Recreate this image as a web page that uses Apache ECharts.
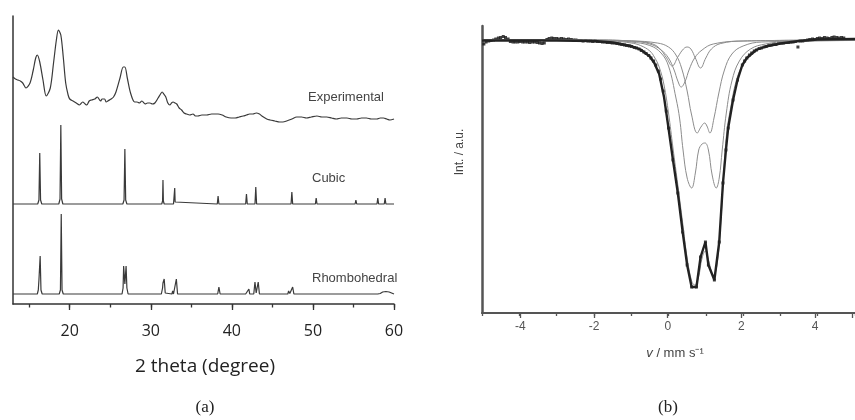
<!DOCTYPE html>
<html>
<head>
<meta charset="utf-8">
<script src="https://cdn.jsdelivr.net/npm/echarts@6/dist/echarts.min.js"></script>
<style>
  html, body { margin: 0; padding: 0; background: #fff; }
  #chart { width: 855px; height: 420px; }
</style>
</head>
<body>
<div id="chart"></div>
<script>
// (a) XRD patterns: [2 theta, intensity a.u.], traces stacked with offsets
const experimental = [
  [13.0, 227], [13.3, 225], [13.6, 224], [13.9, 223], [14.2, 221], [14.6, 216], [15.1, 221], [15.5, 234],
  [15.8, 246], [16.0, 249], [16.3, 242], [16.7, 224], [17.1, 208], [17.6, 216], [18.0, 241], [18.35, 264],
  [18.6, 274], [18.9, 269], [19.2, 247], [19.5, 221], [19.8, 209], [20.0, 205], [20.4, 203], [20.8, 201],
  [21.2, 199], [21.6, 202], [21.9, 200], [22.1, 199], [22.4, 203], [22.7, 204], [23.1, 205], [23.4, 207],
  [23.8, 203], [24.0, 205], [24.3, 205], [24.5, 202], [24.7, 203], [25.1, 205], [25.4, 207], [25.7, 212],
  [26.2, 226], [26.6, 237], [26.8, 237], [27.1, 226], [27.5, 211], [28.0, 202], [28.3, 202], [28.6, 201],
  [28.9, 203], [29.3, 200], [29.6, 201], [29.9, 201], [30.2, 200], [30.5, 201], [30.9, 206], [31.2, 210],
  [31.4, 212], [31.6, 210], [31.85, 207], [32.1, 201], [32.35, 199], [32.55, 201], [32.75, 202], [33.0, 201],
  [33.2, 200], [33.5, 196], [33.8, 194], [34.1, 191], [34.4, 190], [34.8, 189], [35.2, 190], [35.5, 188],
  [35.8, 188], [36.3, 189], [36.9, 189], [37.5, 190], [38.3, 190], [38.8, 189], [39.3, 187], [39.9, 186],
  [40.4, 186], [40.9, 187], [41.4, 188], [41.8, 189], [42.2, 190], [42.6, 190], [43.0, 191], [43.4, 190],
  [43.7, 188], [44.3, 185], [44.7, 184], [45.3, 183], [45.9, 182], [46.3, 182], [46.75, 183], [47.4, 185],
  [48.0, 187], [48.6, 187], [49.2, 186], [49.8, 187], [50.5, 188], [51.1, 187], [51.7, 187], [52.3, 186],
  [52.9, 185], [53.5, 186], [54.2, 186], [54.8, 185], [55.4, 185], [56.0, 186], [56.6, 186], [57.2, 185],
  [57.9, 185], [58.3, 186], [58.7, 186], [59.1, 185], [59.5, 184], [60.0, 185]
];
const cubic = [
  [13, 100], [16.05, 100], [16.2, 104], [16.3, 151], [16.4, 104], [16.55, 100],
  [18.65, 100], [18.8, 105], [18.9, 179], [19.0, 105], [19.15, 100],
  [26.55, 100], [26.7, 104], [26.8, 155], [26.9, 104], [27.05, 100],
  [31.35, 100], [31.45, 103], [31.5, 124], [31.55, 103], [31.65, 100],
  [32.8, 100], [32.9, 102], [32.95, 116], [33.0, 102], [33.1, 100],
  [38.2, 100], [38.3, 108], [38.4, 100],
  [41.7, 100], [41.8, 110], [41.9, 100],
  [42.85, 100], [42.95, 117], [43.05, 100],
  [47.3, 100], [47.4, 112], [47.5, 100],
  [50.3, 100], [50.4, 106], [50.5, 100],
  [55.2, 100], [55.3, 104], [55.4, 100],
  [57.9, 100], [58.0, 106], [58.1, 100],
  [58.8, 100], [58.9, 106], [59.0, 100], [60, 100]
];
const rhombohedral = [
  [13, 10], [16.0, 10], [16.12, 14], [16.2, 24], [16.27, 22], [16.35, 48], [16.45, 14], [16.6, 10],
  [18.7, 10], [18.85, 14], [18.95, 90], [19.05, 14], [19.2, 10],
  [26.45, 10], [26.58, 16], [26.65, 38], [26.8, 20], [26.95, 38], [27.05, 16], [27.2, 10],
  [31.3, 10], [31.45, 16], [31.5, 21], [31.58, 19], [31.65, 25], [31.78, 11], [31.9, 10],
  [32.6, 10], [32.7, 13], [32.8, 10],
  [33.0, 10], [33.15, 25], [33.3, 10],
  [38.25, 10], [38.4, 17], [38.55, 10],
  [41.7, 10], [41.8, 12], [41.9, 10.5], [42.1, 15], [42.2, 10],
  [42.7, 10], [42.85, 22], [43.0, 11], [43.25, 22], [43.4, 10],
  [46.9, 10], [47.0, 13], [47.15, 10.5], [47.5, 17], [47.65, 10],
  [50.45, 10], [50.6, 12], [50.75, 10],
  [55.1, 10], [55.2, 11], [55.4, 10], [55.6, 11], [55.7, 10],
  [58.0, 10], [58.1, 12], [58.3, 10.5], [58.6, 12], [58.8, 11], [59.0, 12.5], [59.2, 11], [59.4, 12], [59.55, 10], [60, 10]
];
const xrdLabels = ['Experimental', 'Cubic', 'Rhombohedral'];

// (b) Moessbauer spectrum: [v in mm/s, intensity a.u.]
const mossData = [
  [-4.95, 269], [-4.89, 271], [-4.82, 272], [-4.76, 272.5], [-4.69, 273], [-4.63, 274], [-4.56, 275], [-4.5, 275.5],
  [-4.43, 276.5], [-4.37, 275.5], [-4.3, 274], [-4.24, 271.5], [-4.17, 271], [-4.11, 271], [-4.04, 271], [-3.98, 271.5],
  [-3.91, 271], [-3.85, 271], [-3.78, 271], [-3.72, 270.5], [-3.65, 271], [-3.59, 271], [-3.52, 270.5], [-3.46, 270],
  [-3.39, 269.5], [-3.33, 270], [-3.26, 273.5], [-3.2, 274.5], [-3.13, 275], [-3.07, 274.5], [-3.0, 274.5], [-2.94, 274],
  [-2.87, 274.5], [-2.81, 274], [-2.74, 273.5], [-2.68, 274], [-2.61, 273.5], [-2.55, 273], [-2.48, 273], [-2.42, 272.5],
  [-2.35, 272.5], [-2.29, 272], [-2.22, 272.5], [-2.16, 272], [-2.09, 272], [-2.03, 271.5], [-1.96, 272], [-1.9, 271.5],
  [-1.83, 271.5], [-1.77, 271], [-1.7, 271], [-1.64, 270.5], [-1.57, 270.5], [-1.51, 270], [-1.44, 270], [-1.38, 269.5],
  [-1.31, 269], [-1.25, 268.5], [-1.18, 268], [-1.12, 267.5], [-1.05, 267], [-0.99, 266.5], [-0.92, 265.5], [-0.86, 265],
  [-0.79, 264], [-0.73, 262.5], [-0.66, 261], [-0.6, 259.5], [-0.53, 257.5], [-0.47, 255], [-0.4, 252], [-0.34, 248],
  [-0.27, 242], [-0.21, 234], [-0.14, 222], [-0.06, 202], [0.0, 185], [0.12, 153], [0.25, 120], [0.38, 81],
  [0.5, 48], [0.62, 26], [0.75, 26], [0.86, 56], [0.99, 71], [1.07, 48], [1.23, 33], [1.36, 71],
  [1.46, 130], [1.54, 163], [1.6, 185], [1.73, 213], [1.85, 233], [1.98, 248], [2.04, 252], [2.1, 255],
  [2.17, 258], [2.23, 260], [2.3, 262], [2.36, 263], [2.43, 264.5], [2.49, 265], [2.56, 266], [2.62, 266.5],
  [2.69, 267.5], [2.75, 268], [2.82, 268.5], [2.88, 268.5], [2.95, 269.5], [3.01, 270], [3.08, 270], [3.14, 270.5],
  [3.21, 270.5], [3.27, 271], [3.34, 271], [3.4, 271.5], [3.47, 266], [3.53, 272], [3.6, 272], [3.66, 272.5],
  [3.73, 273], [3.79, 273.5], [3.86, 274], [3.92, 273.5], [3.99, 274.5], [4.05, 275], [4.12, 274.5], [4.18, 275.5],
  [4.25, 275], [4.31, 274.5], [4.38, 275.5], [4.44, 276], [4.51, 275.5], [4.57, 275], [4.64, 275.5], [4.7, 275]
];
const mossFit = [
  [-5, 272.5], [-4, 272.5], [-3, 272.5], [-2, 272], [-1.5, 270.5], [-1.0, 267], [-0.75, 263.5], [-0.5, 256.5],
  [-0.38, 250], [-0.25, 239], [-0.12, 216], [0.0, 185], [0.12, 153], [0.25, 120], [0.38, 81], [0.5, 48],
  [0.62, 26], [0.75, 26], [0.86, 56], [0.99, 71], [1.07, 48], [1.23, 33], [1.36, 71], [1.46, 130],
  [1.54, 163], [1.6, 185], [1.73, 213], [1.85, 233], [1.98, 248], [2.1, 255], [2.35, 263], [2.6, 266.5],
  [3.0, 269.5], [3.5, 272], [4.0, 273.5], [5, 274]
];
// fitted envelope and sub-spectra (thin grey)
const envelope = [
  [-5, 273], [-2, 272.5], [-1.5, 272], [-1.0, 270], [-0.75, 267.5], [-0.5, 262], [-0.38, 256], [-0.25, 246],
  [-0.12, 228], [0.0, 200], [0.12, 165], [0.25, 128], [0.38, 90], [0.5, 55], [0.62, 32], [0.7, 28],
  [0.8, 35], [0.9, 55], [0.99, 62], [1.08, 52], [1.2, 37], [1.3, 48], [1.4, 90], [1.48, 140],
  [1.56, 180], [1.68, 208], [1.8, 230], [1.95, 246], [2.1, 255], [2.35, 263], [2.6, 267], [3, 270],
  [4, 272.5], [5, 273]
];
const siteA = [
  [-5, 273], [-1.5, 272.5], [-1.0, 271], [-0.5, 267.5], [-0.2, 260], [0.0, 247], [0.2, 215], [0.3, 194],
  [0.39, 163], [0.5, 135], [0.62, 125], [0.72, 140], [0.81, 163], [0.9, 169], [0.98, 170], [1.07, 163],
  [1.17, 138], [1.28, 125], [1.36, 135], [1.44, 163], [1.55, 200], [1.7, 232], [1.9, 252], [2.2, 264],
  [2.6, 269], [3.2, 271.5], [5, 272.5]
];
const siteB = [
  [-5, 273], [-1.0, 272], [-0.3, 270], [0.0, 266], [0.2, 258], [0.35, 245], [0.5, 222], [0.62, 198],
  [0.77, 180], [0.87, 186], [0.97, 190], [1.03, 187], [1.11, 180], [1.22, 195], [1.35, 220], [1.5, 243],
  [1.7, 259], [2.0, 267], [2.5, 271], [5, 272.5]
];
const siteC = [
  [-5, 273], [-2, 273], [-1, 272], [-0.5, 270], [-0.25, 265], [-0.05, 255], [0.1, 247], [0.25, 256],
  [0.4, 264], [0.5, 266], [0.6, 264], [0.72, 255], [0.86, 245], [1.0, 255], [1.15, 264], [1.4, 269.5],
  [2.0, 272], [5, 273]
];
const siteD = [
  [-5, 273], [-2, 273], [-1, 272], [-0.5, 269], [-0.2, 263], [0.0, 255], [0.15, 243], [0.25, 232],
  [0.34, 226], [0.45, 232], [0.55, 243], [0.7, 255], [0.9, 263], [1.2, 269], [2, 272], [5, 273]
];

// layout (px)
const A = { left: 13, right: 394, top: 16, bottom: 304, min: 13, max: 60 };
const aPx = (A.right - A.left) / (A.max - A.min);
const B = { left: 482, top: 26, bottom: 313, min: -5, max: 5, px: 38.3 };

const chart = echarts.init(document.getElementById('chart'), null, { renderer: 'canvas' });

const gridA = (from) => ({
  left: A.left + (from - A.min) * aPx, top: A.top,
  width: (A.max - from) * aPx, height: A.bottom - A.top
});
const gridB = (from) => ({
  left: B.left + (from - B.min) * B.px, top: B.top,
  width: (B.max - from) * B.px, height: B.bottom - B.top
});

const noTick = { show: false };
const hiddenY = (g) => ({ type: 'value', gridIndex: g, show: false, min: 0, max: 1 });

const xrdLine = (name, data) => ({
  name, type: 'line', xAxisIndex: 0, yAxisIndex: 0, data,
  showSymbol: false, smooth: name === 'Experimental' ? 0.3 : false,
  lineStyle: { color: '#3a3a3a', width: 1.2 }
});
const siteLine = (name, data) => ({
  name, type: 'line', xAxisIndex: 3, yAxisIndex: 3, data,
  showSymbol: false, smooth: 0.4,
  lineStyle: { color: '#8c8c8c', width: 1 }
});

chart.setOption({
  animation: false,
  grid: [gridA(A.min), gridA(15), gridA(20), gridB(B.min), gridB(-4)],
  xAxis: [
    { type: 'value', gridIndex: 0, min: A.min, max: A.max,
      axisLine: { onZero: false, lineStyle: { color: '#333', width: 1.5 } },
      axisTick: noTick, axisLabel: { show: false }, splitLine: { show: false } },
    { type: 'value', gridIndex: 1, min: 15, max: 60, interval: 5,
      axisLine: { show: false }, axisTick: { length: 3.5, lineStyle: { color: '#333', width: 1.3 } },
      axisLabel: { show: false }, splitLine: { show: false } },
    { type: 'value', gridIndex: 2, min: 20, max: 60, interval: 10,
      axisLine: { show: false }, axisTick: { length: 6, lineStyle: { color: '#333', width: 1.3 } },
      axisLabel: { fontSize: 16, color: '#222', fontFamily: 'Open Sans', margin: 19 },
      splitLine: { show: false } },
    { type: 'value', gridIndex: 3, min: B.min, max: B.max, interval: 1,
      axisLine: { onZero: false, lineStyle: { color: '#555', width: 2 } },
      axisTick: { length: 3, lineStyle: { color: '#555', width: 1.3 } },
      axisLabel: { show: false }, splitLine: { show: false } },
    { type: 'value', gridIndex: 4, min: -4, max: B.max, interval: 2,
      axisLine: { show: false },
      axisTick: { length: 5, lineStyle: { color: '#555', width: 1.3 } },
      axisLabel: { fontSize: 12, color: '#555', fontFamily: 'Liberation Sans', margin: 8,
        formatter: (v) => (v > 4 ? '' : String(v)) },
      splitLine: { show: false } }
  ],
  yAxis: [
    { type: 'value', gridIndex: 0, min: 0, max: 288,
      axisLine: { show: true, onZero: false, lineStyle: { color: '#333', width: 1.5 } },
      axisTick: noTick, axisLabel: { show: false }, splitLine: { show: false } },
    hiddenY(1), hiddenY(2),
    { type: 'value', gridIndex: 3, min: 0, max: 287,
      axisLine: { show: true, onZero: false, lineStyle: { color: '#555', width: 2.5 } },
      axisTick: noTick, axisLabel: { show: false }, splitLine: { show: false } },
    hiddenY(4)
  ],
  series: [
    xrdLine('Experimental', experimental),
    xrdLine('Cubic', cubic),
    xrdLine('Rhombohedral', rhombohedral),
    siteLine('Envelope', envelope),
    siteLine('Site A', siteA),
    siteLine('Site B', siteB),
    siteLine('Site C', siteC),
    siteLine('Site D', siteD),
    { name: 'Fit', type: 'line', xAxisIndex: 3, yAxisIndex: 3, data: mossFit,
      showSymbol: false, lineStyle: { color: '#222', width: 2.4 } },
    { name: 'Data', type: 'scatter', xAxisIndex: 3, yAxisIndex: 3, data: mossData,
      symbol: 'rect', symbolSize: 3, itemStyle: { color: '#111' } }
  ],
  graphic: [
    { type: 'text', x: 308, y: 97, style: { text: xrdLabels[0], fontSize: 13, fill: '#444', fontFamily: 'Liberation Sans', verticalAlign: 'middle' } },
    { type: 'text', x: 312, y: 178, style: { text: xrdLabels[1], fontSize: 13, fill: '#444', fontFamily: 'Liberation Sans', verticalAlign: 'middle' } },
    { type: 'text', x: 312, y: 278, style: { text: xrdLabels[2], fontSize: 13, fill: '#444', fontFamily: 'Liberation Sans', verticalAlign: 'middle' } },
    { type: 'text', x: 205, y: 367, style: { text: '2 theta (degree)', fontSize: 19, fill: '#222', fontFamily: 'Open Sans', align: 'center', verticalAlign: 'middle' } },
    { type: 'text', x: 205, y: 408, style: { text: '(a)', fontSize: 17, fill: '#222', fontFamily: 'Liberation Serif', align: 'center', verticalAlign: 'middle' } },
    { type: 'text', x: 668, y: 408, style: { text: '(b)', fontSize: 17, fill: '#222', fontFamily: 'Liberation Serif', align: 'center', verticalAlign: 'middle' } },
    { type: 'text', x: 460, y: 152, rotation: Math.PI / 2,
      style: { text: 'Int. / a.u.', fontSize: 12, fill: '#444', fontFamily: 'Liberation Sans', align: 'center', verticalAlign: 'middle' } },
    { type: 'text', x: 675, y: 353,
      style: { text: '{i|v} / mm s\u207B\u00B9', fontSize: 13, fill: '#444', fontFamily: 'Liberation Sans', align: 'center', verticalAlign: 'middle',
        rich: { i: { fontStyle: 'italic', fontSize: 13, fill: '#444', fontFamily: 'Liberation Sans' } } } }
  ]
});
</script>
</body>
</html>
